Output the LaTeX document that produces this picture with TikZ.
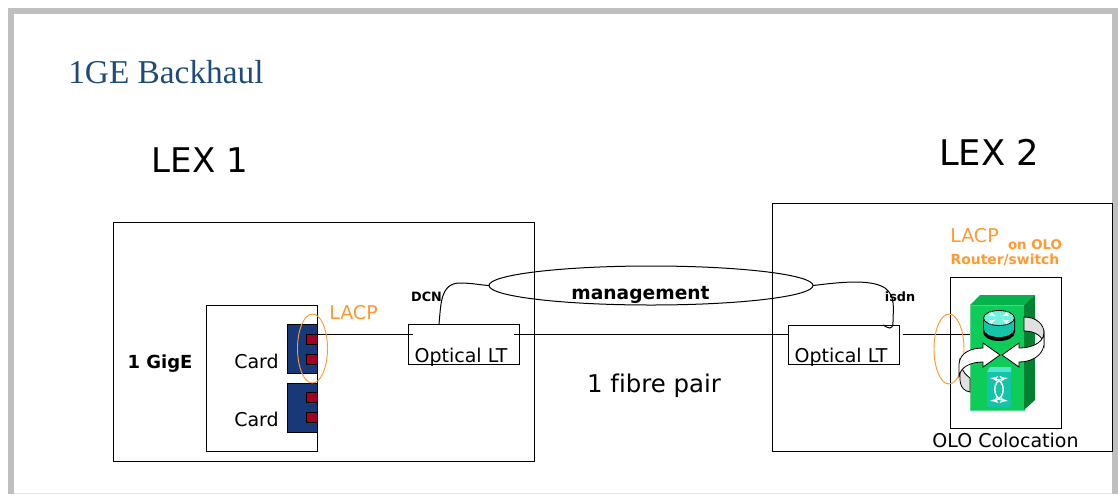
\documentclass[tikz,border=0pt]{standalone}
\usepackage{fontspec}
\setmainfont{DejaVu Sans}
\newfontfamily\titlefont{Liberation Serif}
\usepackage{tikz}
\usetikzlibrary{arrows}
\usetikzlibrary{positioning}
\usetikzlibrary{shapes.geometric}
\tikzset{box/.style 2 args = {draw, inner sep = 0, outer sep = 0, line width = 0.75pt,
                              minimum width = #1 * 0.75pt, minimum height = #2 * 0.75pt}}
\tikzset{wire/.style = {line width = 0.75pt}}
\tikzset{txt/.style = {inner sep = 0, font = \fontsize{#1}{#1}\selectfont}}
\tikzset{btxt/.style = {inner sep = 0, font = \fontsize{#1}{#1}\selectfont\bfseries}}
\tikzset{ring/.style = {draw, ellipse, inner sep = 0, outer sep = 0, mred, line width = 0.7pt}}
\definecolor{mgray}{rgb}{0.75, 0.75, 0.75}
\definecolor{mtitle}{rgb}{0.12, 0.29, 0.49}
\definecolor{mblue}{rgb}{0.1, 0.22, 0.47}
\definecolor{mport}{rgb}{0.64, 0, 0.14}
\definecolor{mred}{rgb}{1, 0.6, 0.2}
\definecolor{mgreen}{rgb}{0.05, 0.8, 0.35}
\definecolor{mgreentop}{rgb}{0.02, 0.7, 0.3}
\definecolor{mgreenside}{rgb}{0.02, 0.5, 0.2}
\definecolor{mteal}{rgb}{0.08, 0.77, 0.66}
\definecolor{mtealtop}{rgb}{0.44, 0.95, 0.87}
\begin{document}
\begin{tikzpicture}[x=0.75pt, y=-0.75pt]
      \useasboundingbox (0, 0) rectangle (1118, 494);
      \draw [mgray, line width=4.5pt] (11, 494) -- (11, 10.5) -- (1115, 10.5) -- (1115, 494);
      \draw [black!10, line width=1pt] (14, 493.3) -- (1112, 493.3);

      \node [mtitle, anchor=west, inner sep=0, font=\fontsize{25}{25}\selectfont\titlefont] (title) at (68, 72) {1GE Backhaul};
      \node [txt=25.5] (lexa) at (200, 160) {LEX 1};
      \node [txt=26.5] (lexb) at (989, 152) {LEX 2};

      \node [box={421}{239}] (lexabox) at (323.5, 341.5) {};
      \node [box={340}{248}] (lexbbox) at (942, 327) {};
      \node [box={111}{146}] (cardbox) at (261.5, 378) {};
      \node [box={111}{151}] (colobox) at (1005.5, 352.5) {};

      \node [box={30}{49}, fill=mblue] (carda) at (302, 348.5) {};
      \node [box={30}{49}, fill=mblue] (cardb) at (302, 407.5) {};
      \foreach \name/\y in {porta/339, portb/359, portc/397.5, portd/417} {
        \node [box={11}{10}, fill=mport] (\name) at (311.5, \y) {};
      }
      \node [txt=14.25] (carda-label) at (256.5, 361) {Card};
      \node [txt=14.25] (cardb-label) at (256.5, 419) {Card};
      \node [btxt=13.5] (gige) at (160, 364) {1 GigE};

      \node [box={111}{40}] (lta) at (463.5, 344) {};
      \node [box={111}{39}] (ltb) at (843.5, 344.5) {};
      \node [txt=14.25] (lta-label) at (461, 357) {Optical LT};
      \node [txt=14.25] (ltb-label) at (841, 357) {Optical LT};
      \coordinate (lta-in) at (413, 334);
      \coordinate (lta-out) at (514, 334);
      \coordinate (ltb-out) at (903, 334);
      \coordinate (lta-top) at (439, 324);
      \coordinate (ltb-top) at (883, 325);

      \draw [wire] (porta.north east) -- (lta-in);
      \draw [wire] (lta-out) -- (ltb.west |- lta-out);

      \node [ring, minimum width=22.5pt, minimum height=51.75pt] (lacpa) at (312.5, 348.5) {};
      \node [txt=14.25, mred] (lacpa-label) at (353.5, 313) {LACP};
      \node [txt=14.25, mred] (lacpb-label) at (974.5, 236) {LACP};
      \node [btxt=10, mred] (olo) at (1035, 245) {on OLO};
      \node [btxt=10.4, mred] (router) at (1005, 260) {Router/switch};

      \node [draw, ellipse, inner sep=0, outer sep=0, line width=0.75pt,
             minimum width=243pt, minimum height=29.25pt] (mgmt) at (651, 285.5) {};
      \node [btxt=14] (mgmt-label) at (640.5, 295) {management};
      \node [btxt=9.6] (dcn) at (426.5, 297) {DCN};
      \node [btxt=9.6] (isdn) at (900, 297) {isdn};
      \draw [wire] (lta-top) .. controls (441, 305) and (440, 283) .. (460, 283)
                   .. controls (472, 283) and (480, 285) .. (mgmt.west);
      \draw [wire] (mgmt.east) .. controls (835, 283) and (870, 278) .. (885, 288)
                   .. controls (896, 296) and (893, 310) .. (893, 322)
                   .. controls (893, 331) and (888, 328) .. (ltb-top);

      \node [txt=18.3] (fibre) at (654, 386) {1 f\kern0pt ibre pair};
      \node [txt=14.25] (colo-label) at (1005.5, 440) {OLO Colocation};

      \node [box={54}{105}, draw=mgreen!70, fill=mgreen] (front) at (997, 357.5) {};
      \fill [mgreentop] (front.north west) -- (980, 295) -- (1035, 295) -- (front.north east) -- cycle;
      \fill [mgreenside] (front.north east) -- (1035, 295) -- (1035, 400) -- (front.south east) -- cycle;
      \draw [wire] (ltb-out) -- (front.west |- ltb-out);

      \node [ring, minimum width=22.5pt, minimum height=52.5pt] (lacpb) at (949, 349) {};

      \fill [black] (983, 318) -- (983, 332) arc [start angle=180, end angle=0, x radius=16, y radius=9]
                    -- (1015, 318) -- cycle;
      \fill [mteal] (984, 318) -- (984, 329) arc [start angle=180, end angle=0, x radius=15, y radius=8]
                    -- (1014, 318) -- cycle;
      \draw [fill=mtealtop, line width=0.6pt] (999, 318) ellipse [x radius=15.5, y radius=7.5];
      \foreach \sx/\sy in {1/1, -1/1, 1/-1, -1/-1} {
        \draw [white, line width=0.8pt, -latex'] (999 + \sx * 10, 318 + \sy * 5) -- (999 + \sx * 3, 318 + \sy * 1.5);
      }

      \fill [mtealtop!70!mteal] (987, 372) -- (990, 367) -- (1011, 367) -- (1011, 372) -- cycle;
      \fill [mteal] (987, 372) rectangle (1011, 407);
      \draw [white, line width=1.1pt, latex'-latex'] (990, 378) .. controls (1006, 380) and (1006, 399) .. (990, 401);
      \draw [white, line width=1.1pt, latex'-latex'] (1008, 378) .. controls (992, 380) and (992, 399) .. (1008, 401);

      \draw [fill=black!12, line width=0.6pt] (1024, 317) .. controls (1036, 317) and (1044, 324) .. (1044, 333)
                   -- (1044, 345) .. controls (1043, 336) and (1035, 331) .. (1024, 331) -- cycle;
      \draw [fill=white, line width=0.6pt] (1002, 355) -- (1019, 343) -- (1019, 348)
                   .. controls (1030, 348) and (1043, 344) .. (1044, 333)
                   -- (1044, 345) .. controls (1042, 357) and (1030, 362) .. (1019, 362)
                   -- (1019, 367) -- cycle;
      \draw [fill=black!12, line width=0.6pt] (970, 392) .. controls (958, 390) and (960, 378) .. (960, 370)
                   -- (960, 358) .. controls (961, 368) and (962, 372) .. (970, 378) -- cycle;
      \draw [fill=white, line width=0.6pt] (1000, 355) -- (983, 343) -- (983, 348)
                   .. controls (972, 348) and (960, 352) .. (959, 364)
                   -- (959, 376) .. controls (961, 366) and (972, 362) .. (983, 362)
                   -- (983, 367) -- cycle;
    \end{tikzpicture}
\end{document}
